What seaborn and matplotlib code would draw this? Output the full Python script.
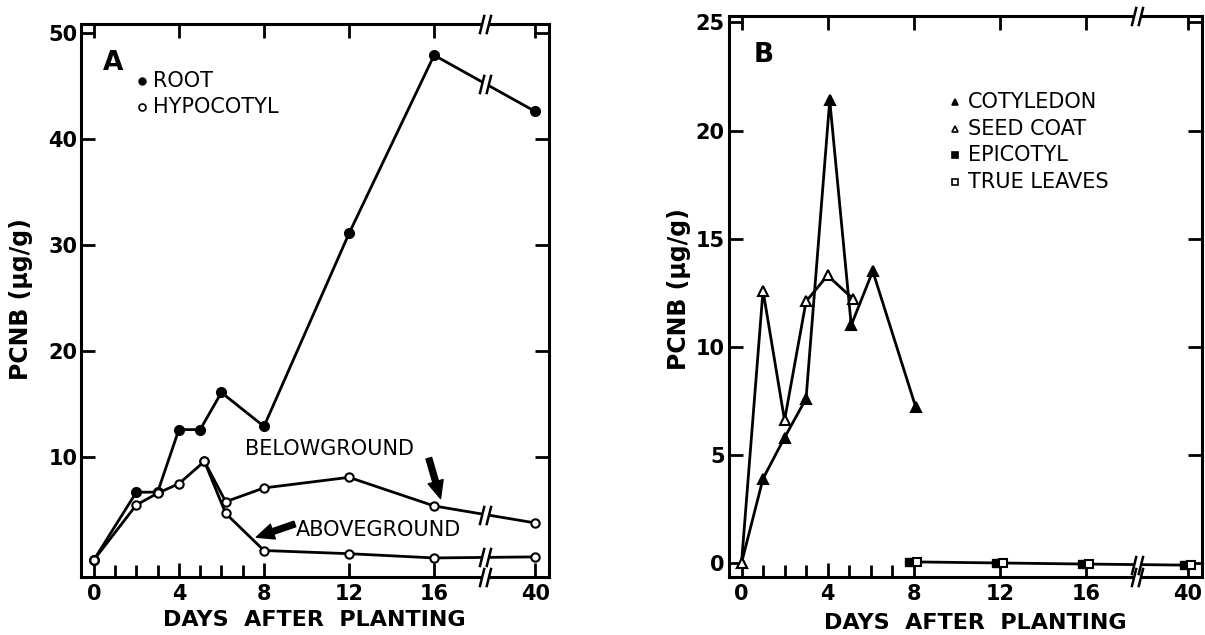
import numpy as np
import matplotlib
matplotlib.use("Agg")
import matplotlib.pyplot as plt
import seaborn as sns
from matplotlib.path import Path
from matplotlib import transforms

# ---- panel A : root / hypocotyl ----
root_days = [0, 2, 3, 4, 5, 6, 8, 12, 16, 40]
root_pcnb = [0.3, 6.7, 6.7, 12.6, 12.6, 16.1, 12.9, 31.1, 47.9, 42.6]
below_days = [0, 2, 3, 4, 5.2, 6.2, 8, 12, 16, 40]
below_pcnb = [0.3, 5.5, 6.6, 7.5, 9.6, 5.8, 7.1, 8.1, 5.4, 3.8]
above_days = [5.2, 6.2, 8, 12, 16, 40]
above_pcnb = [9.6, 4.7, 1.2, 0.9, 0.5, 0.6]

# ---- panel B : cotyledon / seed coat / epicotyl / true leaves ----
cot_days = [0, 1, 2, 3, 4.1, 5.1, 6.1, 8.1]
cot_pcnb = [0, 3.9, 5.8, 7.6, 21.4, 11.0, 13.5, 7.2]
seed_days = [0, 1, 2, 3, 4.0, 5.2]
seed_pcnb = [0, 12.6, 6.6, 12.1, 13.3, 12.2]
leaf_days = [8, 12, 16, 40]
epicotyl_pcnb = [0.05, 0.0, -0.05, -0.1]
leaves_pcnb = [0.05, 0.0, -0.05, -0.1]

tick_days = [0, 4, 8, 12, 16, 40]
minor_days = [1, 2, 3, 5, 6, 7]

POS40 = 20.75   # where day 40 sits after the axis break
BRK = 18.4      # position of the break marks


def xpos(d):
    d = np.asarray(d, dtype=float)
    return np.where(d > 16, 16 + (d - 16) * (POS40 - 16) / 24, d)


sns.set_theme(style="ticks")
plt.rcParams["font.family"] = ["DejaVu Sans"]
plt.rcParams["text.color"] = "black"
plt.rcParams["axes.labelcolor"] = "black"

fig = plt.figure(figsize=(12.05, 6.35), dpi=100)
axA = fig.add_axes([0.0676, 0.0913, 0.388, 0.871])
axB = fig.add_axes([0.605, 0.0913, 0.3925, 0.8835])

LW = 2.0

brk_path = Path([(-0.6, -1), (-0.1, 1), (0.1, -1), (0.6, 1)],
                [Path.MOVETO, Path.LINETO, Path.MOVETO, Path.LINETO])
gap_path = Path([(-0.6, -1), (0.1, -1), (0.6, 1), (-0.1, 1), (-0.6, -1)],
                [Path.MOVETO, Path.LINETO, Path.LINETO, Path.LINETO, Path.CLOSEPOLY])


def brk(ax, x, y, trans=None, ms=14):
    if trans is None:
        trans = ax.transData
    ax.plot([x], [y], marker=gap_path, ms=ms, mfc="white", mec="white", mew=0,
            ls="none", zorder=8, clip_on=False, transform=trans)
    ax.plot([x], [y], marker=brk_path, ms=ms, mfc="none", mec="black", mew=1.8,
            ls="none", zorder=9, clip_on=False, transform=trans)


def line(ax, days, vals, marker, face, ms, **kw):
    sns.lineplot(x=xpos(days), y=vals, ax=ax, color="black", lw=LW, sort=False,
                 estimator=None, marker=marker, markersize=ms, markerfacecolor=face,
                 markeredgecolor="black", markeredgewidth=1.5, **kw)


def style(ax, yticks, ylim):
    ax.set_xlim(-0.58, 21.4)
    ax.set_ylim(*ylim)
    ax.set_xticks(xpos(tick_days))
    ax.set_xticklabels([str(d) for d in tick_days], fontweight="bold")
    ax.set_xticks(minor_days, minor=True)
    ax.set_yticks(yticks)
    ax.set_yticklabels([str(v) for v in yticks], fontweight="bold")
    ax.tick_params(axis="both", which="both", direction="in", top=True, right=True,
                   width=2, labelsize=15, color="black", labelcolor="black")
    ax.tick_params(which="major", length=10)
    ax.tick_params(axis="x", which="major", pad=5)
    ax.tick_params(axis="y", which="major", pad=3)
    ax.tick_params(which="minor", length=9, top=False)
    for s in ax.spines.values():
        s.set_linewidth(2.2)
        s.set_color("black")
    ax.set_xlabel("DAYS  AFTER  PLANTING", fontsize=16, fontweight="bold")
    ax.set_ylabel("PCNB (\u00b5g/g)", fontsize=17, fontweight="bold")
    bt = transforms.blended_transform_factory(ax.transData, ax.transAxes)
    brk(ax, BRK, 1.0, bt)
    brk(ax, BRK, 0.0, bt)


# ---- panel A ----
line(axA, root_days, root_pcnb, "o", "black", 6.5)
line(axA, below_days, below_pcnb, "o", "white", 6)
line(axA, above_days, above_pcnb, "o", "white", 6)
style(axA, [10, 20, 30, 40, 50], (-1.3, 50.85))
axA.xaxis.set_label_coords(0.498, -0.06)
axA.yaxis.set_label_coords(-0.104, 0.503)
for d, v in [(root_days, root_pcnb), (below_days, below_pcnb), (above_days, above_pcnb)]:
    xp = xpos(d)
    brk(axA, BRK, np.interp(BRK, xp[-2:], v[-2:]))

axA.text(0.046, 0.93, "A", transform=axA.transAxes, fontsize=19, fontweight="bold", va="center")
axA.plot([0.129], [0.897], "o", transform=axA.transAxes, ms=5, color="black")
axA.plot([0.129], [0.850], "o", transform=axA.transAxes, ms=5, mfc="white", mec="black", mew=1.2)
axA.text(0.152, 0.897, "ROOT", transform=axA.transAxes, fontsize=15, va="center")
axA.text(0.152, 0.850, "HYPOCOTYL", transform=axA.transAxes, fontsize=15, va="center")

axA.text(7.1, 10.75, "BELOWGROUND", fontsize=15, va="center")
axA.text(9.5, 3.1, "ABOVEGROUND", fontsize=15, va="center")
arrow = dict(arrowstyle="simple,head_length=0.9,head_width=0.8,tail_width=0.3",
             color="black", mutation_scale=14, shrinkA=0, shrinkB=0)
axA.annotate("", xy=(16.3, 6.1), xytext=(15.75, 9.9), arrowprops=arrow)
axA.annotate("", xy=(7.64, 2.45), xytext=(9.45, 3.7), arrowprops=arrow)

# ---- panel B ----
line(axB, cot_days, cot_pcnb, "^", "black", 6.5)
line(axB, seed_days, seed_pcnb, "^", "white", 6.5)
sns.lineplot(x=xpos(leaf_days), y=epicotyl_pcnb, ax=axB, color="black", lw=LW,
             sort=False, estimator=None)
left = transforms.offset_copy(axB.transData, fig=fig, x=-3, y=0, units="points")
right = transforms.offset_copy(axB.transData, fig=fig, x=2.5, y=0, units="points")
axB.plot(xpos(leaf_days), epicotyl_pcnb, "s", ms=5.5, color="black", transform=left, zorder=4)
axB.plot(xpos(leaf_days), leaves_pcnb, "s", ms=5.5, mfc="white", mec="black", mew=1.5,
         transform=right, zorder=5)
style(axB, [0, 5, 10, 15, 20, 25], (-0.65, 25.3))
axB.xaxis.set_label_coords(0.52, -0.065)
axB.yaxis.set_label_coords(-0.08, 0.513)
xp = xpos(leaf_days)
brk(axB, BRK, np.interp(BRK, xp[-2:], epicotyl_pcnb[-2:]))

axB.text(0.053, 0.93, "B", transform=axB.transAxes, fontsize=19, fontweight="bold", va="center")
legB = [("^", "black", "COTYLEDON"), ("^", "white", "SEED COAT"),
        ("s", "black", "EPICOTYL"), ("s", "white", "TRUE LEAVES")]
for i, (m, f, lab) in enumerate(legB):
    yy = 0.847 - i * 0.0477
    axB.plot([0.478], [yy], m, transform=axB.transAxes, ms=5, mfc=f, mec="black", mew=1.2)
    axB.text(0.505, yy, lab, transform=axB.transAxes, fontsize=15, va="center")

fig.savefig("out.png", dpi=100)
